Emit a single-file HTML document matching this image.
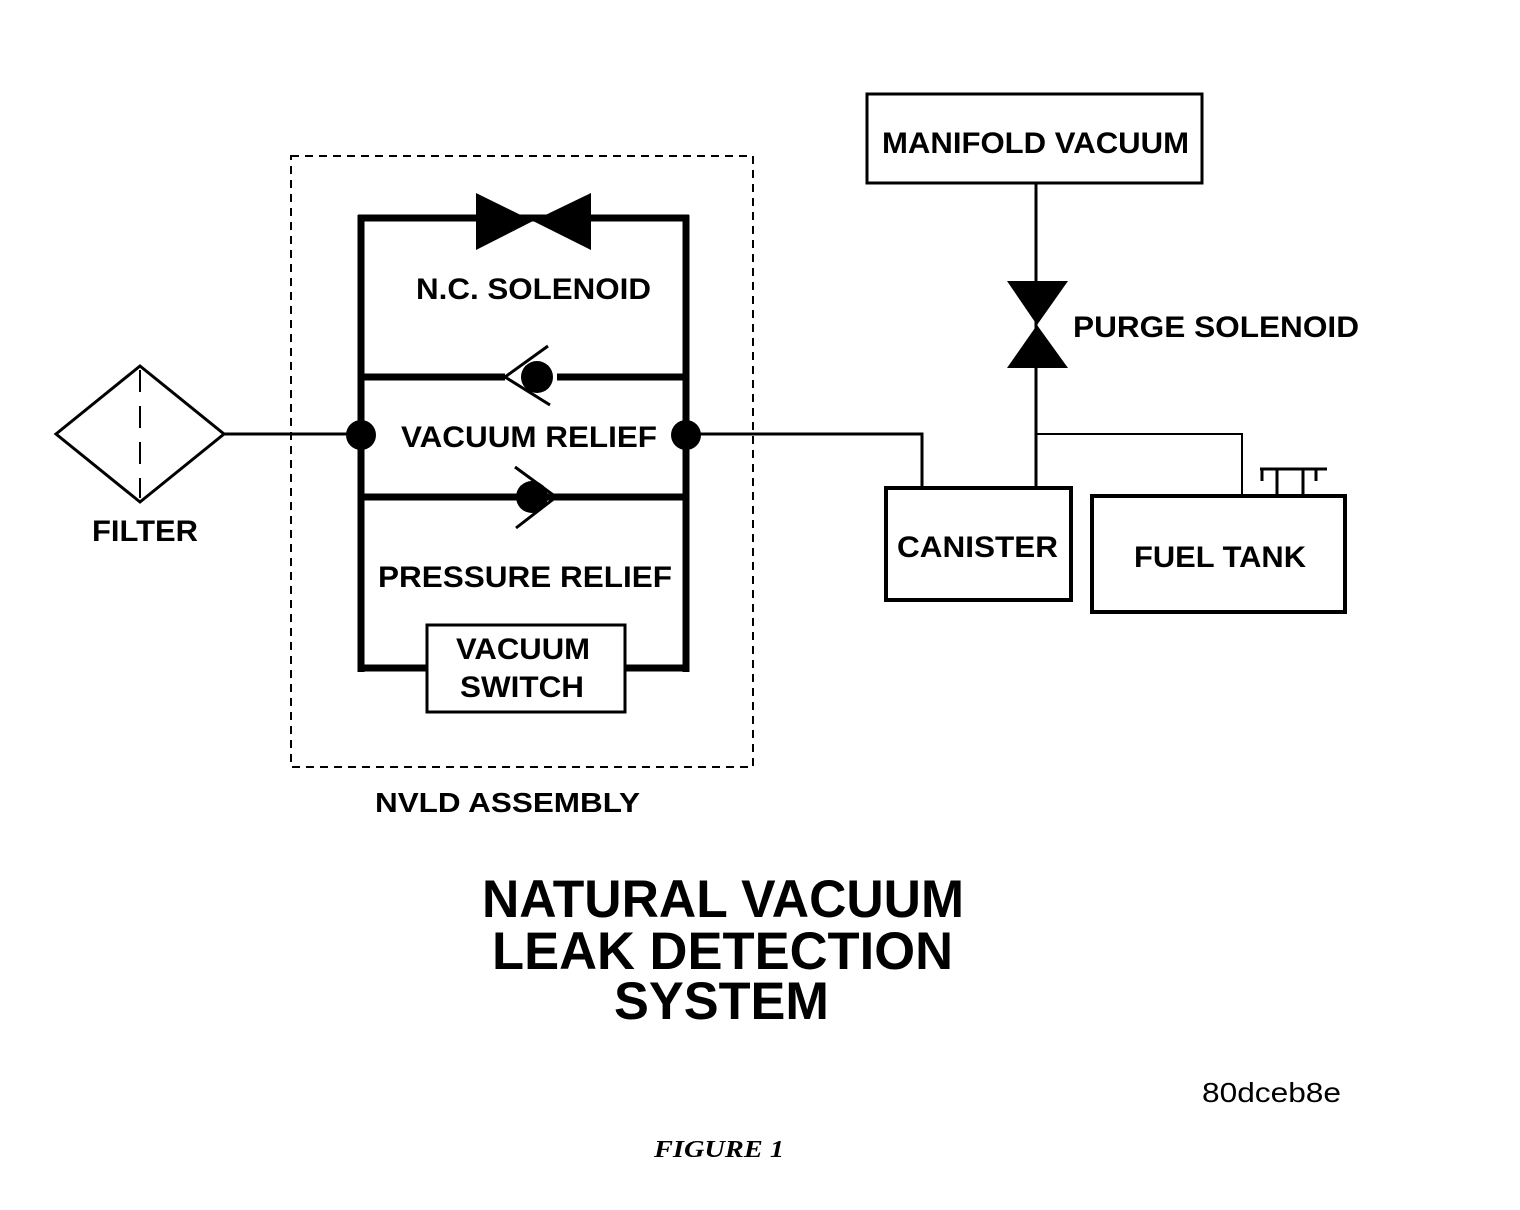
<!DOCTYPE html>
<html><head><style>
html,body{margin:0;padding:0;background:#fff;}
svg{display:block;}
text{font-family:"Liberation Sans",Arial,sans-serif;font-weight:bold;fill:#000;}
</style></head><body>
<svg width="1520" height="1210" viewBox="0 0 1520 1210" xmlns="http://www.w3.org/2000/svg">
<rect x="291" y="156" width="462" height="611" fill="none" stroke="#000" stroke-width="2" stroke-dasharray="8,6"/>
<!-- filter -->
<polygon points="56,434 140,366 224,434 140,502" fill="none" stroke="#000" stroke-width="3"/>
<line x1="140" y1="370" x2="140" y2="498" stroke="#000" stroke-width="2" stroke-dasharray="22,14"/>
<line x1="224" y1="434" x2="361" y2="434" stroke="#000" stroke-width="3"/>
<text x="92" y="541" font-size="30" textLength="106" lengthAdjust="spacingAndGlyphs">FILTER</text>
<!-- inner frame -->
<g stroke="#000" stroke-width="7" fill="none">
<line x1="361" y1="215" x2="361" y2="672"/>
<line x1="686" y1="215" x2="686" y2="672"/>
<line x1="358" y1="218" x2="689" y2="218"/>
<line x1="358" y1="377" x2="505" y2="377"/>
<line x1="557" y1="377" x2="689" y2="377"/>
<line x1="358" y1="497" x2="689" y2="497"/>
<line x1="358" y1="668" x2="427" y2="668"/>
<line x1="625" y1="668" x2="689" y2="668"/>
</g>
<polygon points="476,193 533,221 476,250" fill="#000"/>
<polygon points="591,193 533,221 591,250" fill="#000"/>
<text x="416" y="299" font-size="30" textLength="235" lengthAdjust="spacingAndGlyphs">N.C. SOLENOID</text>
<!-- vacuum relief check -->
<circle cx="537" cy="377" r="16" fill="#000"/>
<polyline points="548,346 505,377 550,405" fill="none" stroke="#000" stroke-width="3"/>
<text x="401" y="447" font-size="30" textLength="256" lengthAdjust="spacingAndGlyphs">VACUUM RELIEF</text>
<!-- pressure relief check -->
<circle cx="532" cy="497" r="16" fill="#000"/>
<polyline points="515,467 556,497 516,528" fill="none" stroke="#000" stroke-width="3"/>
<text x="378" y="587" font-size="30" textLength="294" lengthAdjust="spacingAndGlyphs">PRESSURE RELIEF</text>
<rect x="427" y="625" width="198" height="87" fill="#fff" stroke="#000" stroke-width="3"/>
<text x="456" y="659" font-size="30" textLength="134" lengthAdjust="spacingAndGlyphs">VACUUM</text>
<text x="460" y="697" font-size="30" textLength="124" lengthAdjust="spacingAndGlyphs">SWITCH</text>
<circle cx="361" cy="435" r="15" fill="#000"/>
<circle cx="686" cy="435" r="15" fill="#000"/>
<text x="375" y="812" font-size="28" textLength="265" lengthAdjust="spacingAndGlyphs">NVLD ASSEMBLY</text>
<!-- right side -->
<polyline points="686,434 922,434 922,487" fill="none" stroke="#000" stroke-width="3"/>
<rect x="867" y="94" width="335" height="89" fill="none" stroke="#000" stroke-width="3"/>
<text x="882" y="153" font-size="30" textLength="307" lengthAdjust="spacingAndGlyphs">MANIFOLD VACUUM</text>
<line x1="1036" y1="183" x2="1036" y2="487" stroke="#000" stroke-width="3"/>
<polygon points="1007,281 1068,281 1037,325" fill="#000"/>
<polygon points="1007,368 1068,368 1037,325" fill="#000"/>
<text x="1073" y="337" font-size="30" textLength="286" lengthAdjust="spacingAndGlyphs">PURGE SOLENOID</text>
<polyline points="1036,434 1242,434 1242,495" fill="none" stroke="#000" stroke-width="2"/>
<line x1="1260" y1="469" x2="1327" y2="469" stroke="#000" stroke-width="3"/>
<g stroke="#000" stroke-width="3">
<line x1="1262" y1="469" x2="1262" y2="481"/>
<line x1="1277" y1="469" x2="1277" y2="496"/>
<line x1="1303" y1="469" x2="1303" y2="496"/>
<line x1="1316" y1="469" x2="1316" y2="481"/>
</g>
<rect x="886" y="488" width="185" height="112" fill="none" stroke="#000" stroke-width="4"/>
<text x="897" y="557" font-size="30" textLength="161" lengthAdjust="spacingAndGlyphs">CANISTER</text>
<rect x="1092" y="496" width="253" height="116" fill="none" stroke="#000" stroke-width="4"/>
<text x="1134" y="567" font-size="30" textLength="172" lengthAdjust="spacingAndGlyphs">FUEL TANK</text>
<!-- title -->
<text x="482" y="917" font-size="53" textLength="482" lengthAdjust="spacingAndGlyphs">NATURAL VACUUM</text>
<text x="492" y="969" font-size="53" textLength="461" lengthAdjust="spacingAndGlyphs">LEAK DETECTION</text>
<text x="614" y="1019" font-size="53" textLength="215" lengthAdjust="spacingAndGlyphs">SYSTEM</text>
<text x="1202" y="1102" font-size="28" textLength="139" lengthAdjust="spacingAndGlyphs" style="font-weight:normal">80dceb8e</text>
<text x="654" y="1157" font-size="24" textLength="130" lengthAdjust="spacingAndGlyphs" style="font-family:'Liberation Serif',serif;font-style:italic;font-weight:bold">FIGURE 1</text>
</svg>
</body></html>
